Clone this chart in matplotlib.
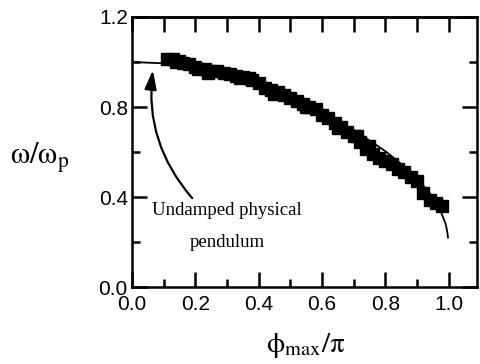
import matplotlib
matplotlib.use("Agg")
import matplotlib.pyplot as plt
import numpy as np

plt.rcParams['font.family'] = 'Liberation Sans'
plt.rcParams['mathtext.fontset'] = 'stix'

# measured frequency ratio vs amplitude
phi_meas = [0.11, 0.13, 0.14, 0.15, 0.16, 0.18, 0.20, 0.21, 0.23, 0.24, 0.25, 0.27,
            0.29, 0.31, 0.33, 0.34, 0.35, 0.37, 0.38, 0.40, 0.42, 0.44, 0.45, 0.46,
            0.48, 0.50, 0.52, 0.54, 0.55, 0.56, 0.58, 0.60, 0.62, 0.64, 0.65, 0.66,
            0.68, 0.70, 0.71, 0.72, 0.74, 0.75, 0.76, 0.78, 0.80, 0.82, 0.84, 0.86,
            0.88, 0.90, 0.92, 0.94, 0.96, 0.98]
w_meas = [1.015, 1.012, 0.998, 1.005, 0.995, 0.990, 0.978, 0.968, 0.968, 0.952, 0.960, 0.958,
          0.950, 0.946, 0.940, 0.928, 0.935, 0.930, 0.918, 0.905, 0.885, 0.875, 0.858, 0.865,
          0.855, 0.840, 0.828, 0.815, 0.798, 0.800, 0.790, 0.765, 0.752, 0.728, 0.705, 0.712,
          0.690, 0.670, 0.672, 0.645, 0.615, 0.628, 0.592, 0.575, 0.560, 0.545, 0.525, 0.510,
          0.490, 0.470, 0.420, 0.385, 0.372, 0.358]

# undamped physical pendulum
phi_th = [0.0, 0.1, 0.2, 0.3, 0.4, 0.5, 0.6, 0.7, 0.8, 0.85, 0.9, 0.94, 0.97, 0.99, 0.995, 0.998]
w_th = [1.0, 0.994, 0.976, 0.944, 0.902, 0.847, 0.780, 0.698, 0.604, 0.547, 0.483, 0.418,
        0.354, 0.283, 0.252, 0.22]

fig = plt.figure(figsize=(4.8, 3.64), dpi=100)
ax = fig.add_axes([0.275, 0.2115, 0.719, 0.7418])

ax.plot(phi_th, w_th, color='k', lw=1.3)
ax.plot(phi_meas, w_meas, ls='none', marker='s', ms=9, color='k')

ax.annotate('', xy=(0.066, 0.964), xytext=(0.19, 0.395),
            arrowprops=dict(arrowstyle='-|>,head_length=1.15,head_width=0.36',
                            mutation_scale=10, lw=1.6, color='k',
                            connectionstyle='arc3,rad=-0.22', shrinkA=0, shrinkB=0))
ax.text(0.30, 0.342, 'Undamped physical', ha='center', va='center',
        family='Liberation Serif', fontsize=13.5)
ax.text(0.30, 0.2, 'pendulum', ha='center', va='center',
        family='Liberation Serif', fontsize=13.5)

ax.set_xlim(0, 1.09)
ax.set_ylim(0, 1.2)
ax.set_xticks(np.arange(0, 1.01, 0.2))
ax.set_xticks(np.arange(0.1, 1.0, 0.2), minor=True)
ax.set_yticks(np.arange(0, 1.21, 0.4))
ax.set_yticks(np.arange(0.2, 1.2, 0.4), minor=True)
ax.set_xticklabels(['%.1f' % v for v in np.arange(0, 1.01, 0.2)])
ax.set_yticklabels(['%.1f' % v for v in np.arange(0, 1.21, 0.4)])
ax.tick_params(which='both', direction='in', width=1.8, right=True, top=False,
               labelsize=15, pad=3)
ax.tick_params(axis='x', which='major', pad=6)
ax.tick_params(which='major', length=11)
ax.tick_params(which='minor', length=6)
for s in ax.spines.values():
    s.set_linewidth(1.8)

top = ax.secondary_xaxis('top')
top.set_xticks(np.arange(0, 1.01, 0.1))
top.set_xticklabels([])
top.tick_params(direction='in', length=11, width=1.8)
top.spines['top'].set_linewidth(1.8)

fig.text(40 / 480, 1 - 158 / 364, r'$\mathrm{\omega/\omega_p}$', ha='center', va='center',
         fontsize=22)
fig.text(306 / 480, 1 - 345 / 364, r'$\mathrm{\phi_{max}/\pi}$', ha='center', va='center',
         fontsize=21)

fig.savefig('out.png', dpi=100)
